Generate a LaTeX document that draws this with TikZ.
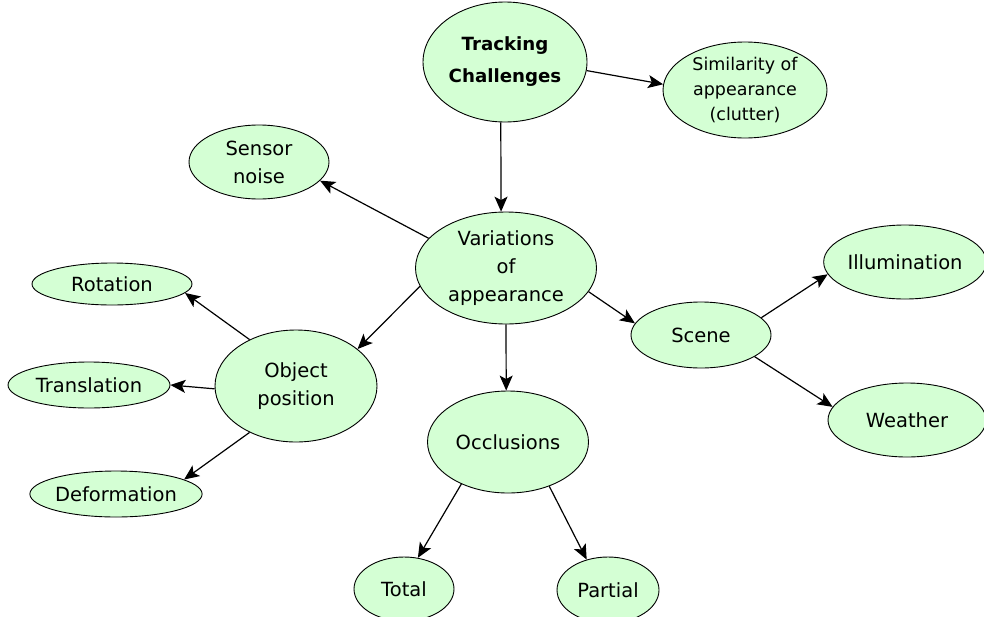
\documentclass[tikz,border=0pt]{standalone}
\usepackage{fontspec}
\setmainfont{DejaVu Sans}
\usetikzlibrary{shapes.geometric,arrows.meta}
\definecolor{nodegreen}{RGB}{212,255,212}
\begin{document}
\begin{tikzpicture}[x=1pt,y=-1pt,
  ell/.style={ellipse,draw=black,line width=0.9pt,fill=nodegreen,inner sep=0pt,align=center,
    font=\fontsize{19.5}{28}\selectfont},
  small/.style={font=\fontsize{17.5}{25}\selectfont},
  conn/.style={draw=black,line width=1.2pt,-{Stealth[length=15pt,width=13pt,inset=3.5pt]}}]
\useasboundingbox (0,0) rectangle (984,616);
\node[ell,font=\fontsize{18.2}{32}\selectfont\bfseries,minimum width=164pt,minimum height=120pt] (tc) at (505,62) {Tracking\\Challenges};
\node[ell,small,minimum width=164pt,minimum height=96pt] (sim) at (745,90) {Similarity of\\appearance\\(clutter)};
\node[ell,minimum width=140pt,minimum height=74pt] (sn) at (259,162) {Sensor\\noise};
\node[ell,minimum width=181pt,minimum height=112pt] (var) at (506,268) {Variations\\of\\appearance};
\node[ell,minimum width=160pt,minimum height=42pt] (rot) at (112,284) {Rotation};
\node[ell,minimum width=162pt,minimum height=112pt] (obj) at (296,386) {Object\\position};
\node[ell,minimum width=162pt,minimum height=46pt] (tra) at (89,385) {Translation};
\node[ell,minimum width=162pt,minimum height=46pt] (def) at (116,494) {Deformation};
\node[ell,minimum width=161pt,minimum height=102pt] (occ) at (508,442) {Occlusions};
\node[ell,minimum width=100pt,minimum height=64pt] (tot) at (404,589) {Total};
\node[ell,minimum width=102pt,minimum height=66pt] (par) at (608,590) {Partial};
\node[ell,minimum width=140pt,minimum height=66pt] (sce) at (701,335) {Scene};
\node[ell,minimum width=160pt,minimum height=74pt] (ill) at (905,262) {Illumination};
\node[ell,minimum width=158pt,minimum height=74pt] (wea) at (907,420) {Weather};
\draw[conn] (tc.354.4) -- (sim.176);
\draw[conn] (tc.266) -- (var.95);
\draw[conn] (var.159.6) -- (sn.343);
\draw[conn] (var.192.3) -- (obj.31.5);
\draw[conn] (var.south) -- (occ.92);
\draw[conn] (var.344.5) -- (sce.170.8);
\draw[conn] (obj.135) -- (rot.353);
\draw[conn] (obj.182) -- (tra.east);
\draw[conn] (obj.225) -- (def.12);
\draw[conn] (occ.222.5) -- (tot.66);
\draw[conn] (occ.313.7) -- (par.125.4);
\draw[conn] (sce.16.4) -- (ill.189.7);
\draw[conn] (sce.338.6) -- (wea.170.9);
\end{tikzpicture}
\end{document}
